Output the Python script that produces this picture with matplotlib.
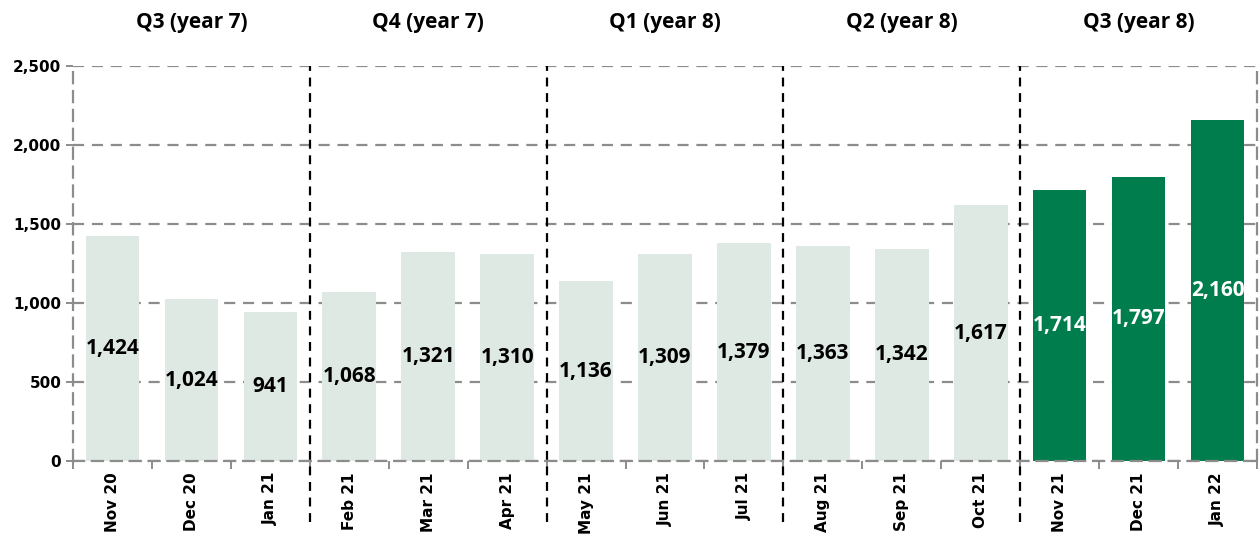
import matplotlib.pyplot as plt
import numpy as np
from matplotlib.ticker import FuncFormatter, MultipleLocator

months = ["Nov 20", "Dec 20", "Jan 21", "Feb 21", "Mar 21", "Apr 21", "May 21",
          "Jun 21", "Jul 21", "Aug 21", "Sep 21", "Oct 21", "Nov 21", "Dec 21", "Jan 22"]
values = [1424, 1024, 941, 1068, 1321, 1310, 1136, 1309, 1379, 1363, 1342, 1617,
          1714, 1797, 2160]
quarters = ["Q3 (year 7)", "Q4 (year 7)", "Q1 (year 8)", "Q2 (year 8)", "Q3 (year 8)"]
highlight = [False] * 12 + [True] * 3

LIGHT = "#dfe9e3"
DARK = "#007d4c"
GRID = "#8c8c8c"

fig = plt.figure(figsize=(12.59, 5.41), dpi=100)
ax = fig.add_axes([0.058, 0.148, 0.9404, 0.730])

x = np.arange(len(months))
colors = [DARK if h else LIGHT for h in highlight]
bars = ax.bar(x, values, width=0.68, color=colors, zorder=2)

for xi, v, h in zip(x, values, highlight):
    ax.text(xi, v / 2, f"{v:,}", ha="center", va="center", fontsize=15,
            fontweight="bold", family="Open Sans", color="white" if h else "black", zorder=3)

ax.set_xlim(-0.5, len(months) - 0.5)
ax.set_ylim(0, 2500)
ax.yaxis.set_major_locator(MultipleLocator(500))
ax.yaxis.set_major_formatter(FuncFormatter(lambda v, p: f"{int(v):,}"))
ax.grid(axis="y", color=GRID, ls=(0, (5, 3.5)), lw=1.6, zorder=1)

for s in ["left", "right", "bottom"]:
    ax.spines[s].set_color(GRID)
    ax.spines[s].set_linestyle((0, (5, 3.5)))
    ax.spines[s].set_linewidth(1.6)
ax.spines["top"].set_visible(False)

ax.set_xticks(x)
ax.set_xticklabels(months, rotation=90, fontsize=11, fontweight="bold")
ax.set_xticks(np.arange(-0.5, len(months)), minor=True)
ax.tick_params(axis="x", which="major", length=0, pad=8)
ax.tick_params(axis="x", which="minor", length=6, width=1.4, color=GRID)
ax.tick_params(axis="y", length=5, width=1.4, color=GRID, labelsize=11)
for lbl in ax.get_yticklabels():
    lbl.set_fontweight("bold")

# quarter separators and headers
for q in range(1, 5):
    ax.plot([q * 3 - 0.5] * 2, [-0.155, 1.0], transform=ax.get_xaxis_transform(),
            color="black", ls=(0, (4, 3)), lw=1.6, clip_on=False, zorder=4)
for q, name in enumerate(quarters):
    ax.text(q * 3 + 1, 1.11, name, transform=ax.get_xaxis_transform(), ha="center",
            va="center", fontsize=15, fontweight="bold", family="Open Sans")

fig.savefig("out.png", dpi=100, facecolor="white")
